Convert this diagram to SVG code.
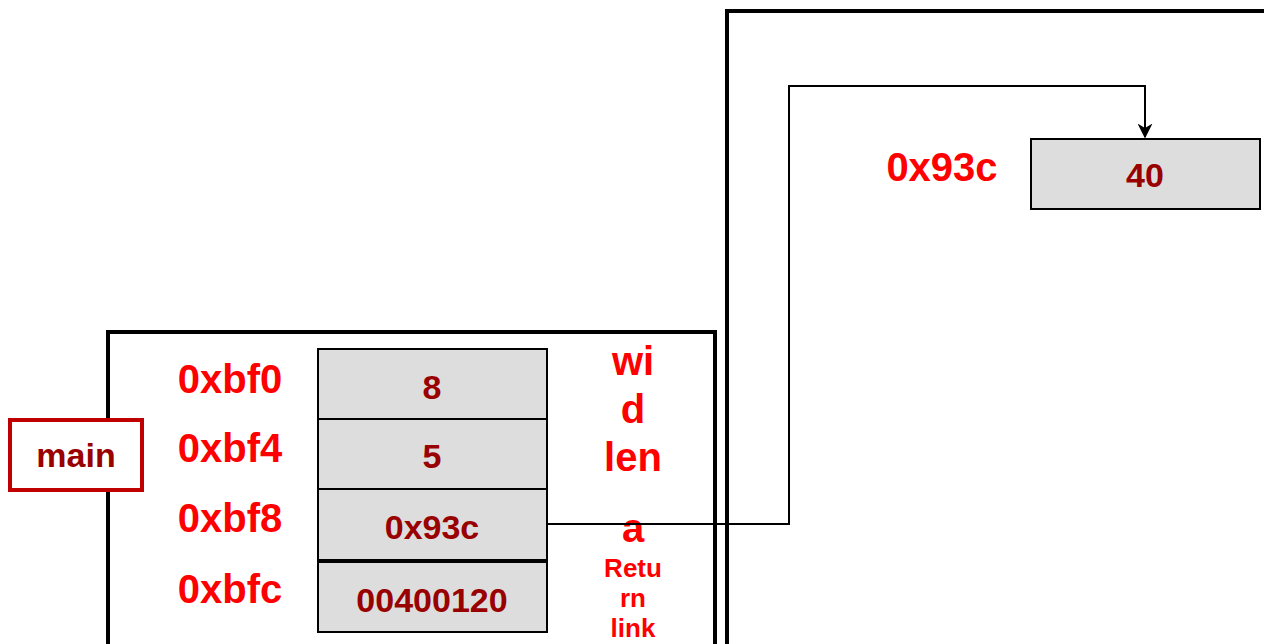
<svg xmlns="http://www.w3.org/2000/svg" width="1264" height="644" viewBox="0 0 1264 644">
<defs>
<style>
.frame{fill:none;stroke:#000;stroke-width:4}
.cell{fill:#dddddd;stroke:#000;stroke-width:2}
.val{font-family:"Liberation Sans",Arial,sans-serif;font-weight:bold;font-size:34px;fill:#990000;text-anchor:middle}
.addr{font-family:"Liberation Sans",Arial,sans-serif;font-weight:bold;font-size:40px;fill:#ff0000;text-anchor:middle}
.lbl{font-family:"Liberation Sans",Arial,sans-serif;font-weight:bold;font-size:40px;fill:#ff0000;text-anchor:middle}
.lbls{font-family:"Liberation Sans",Arial,sans-serif;font-weight:bold;font-size:26px;fill:#ff0000;text-anchor:middle}
.conn{fill:none;stroke:#000;stroke-width:2}
</style>
<marker id="arr" viewBox="0 0 10 10" refX="9" refY="5" markerWidth="15" markerHeight="15" markerUnits="userSpaceOnUse" orient="auto">
<path d="M0,0 L10,5 L0,10 L3,5 Z" fill="#000"/>
</marker>
</defs>
<rect width="1264" height="644" fill="#fff"/>
<g id="frame-main"><rect class="frame" x="108" y="332" width="607" height="340"/></g>
<g id="frame-heap"><rect class="frame" x="727" y="11" width="560" height="660"/></g>
<g id="main-label">
<rect x="10" y="420" width="132" height="70" fill="#fff" stroke="#c00000" stroke-width="4"/>
<text class="val" x="76" y="467">main</text>
</g>
<g id="cell-bf0"><rect class="cell" x="318" y="349" width="229" height="70"/><text class="val" x="432" y="399">8</text></g>
<g id="cell-bf4"><rect class="cell" x="318" y="419" width="229" height="70"/><text class="val" x="432" y="468">5</text></g>
<g id="cell-bf8"><rect class="cell" x="318" y="489" width="229" height="71"/><text class="val" x="432" y="539">0x93c</text></g>
<g id="cell-bfc"><rect class="cell" x="318" y="562" width="229" height="70"/><text class="val" x="432" y="612">00400120</text></g>
<g id="addresses">
<text class="addr" x="230" y="393">0xbf0</text>
<text class="addr" x="230" y="462">0xbf4</text>
<text class="addr" x="230" y="532">0xbf8</text>
<text class="addr" x="230" y="603">0xbfc</text>
</g>
<g id="names">
<text class="lbl" x="633" y="375">wi</text>
<text class="lbl" x="633" y="423">d</text>
<text class="lbl" x="633" y="471">len</text>
<text class="lbl" x="633" y="542">a</text>
<text class="lbls" x="633" y="577">Retu</text>
<text class="lbls" x="633" y="607">rn</text>
<text class="lbls" x="633" y="637">link</text>
</g>
<g id="heap-cell">
<rect class="cell" x="1031" y="139" width="229" height="70"/>
<text class="val" x="1145" y="187">40</text>
<text class="addr" x="942" y="181">0x93c</text>
</g>
<g id="connectors">
<path class="conn" d="M547,524 H789 V86 H1145 V137" marker-end="url(#arr)"/>
</g>
</svg>
